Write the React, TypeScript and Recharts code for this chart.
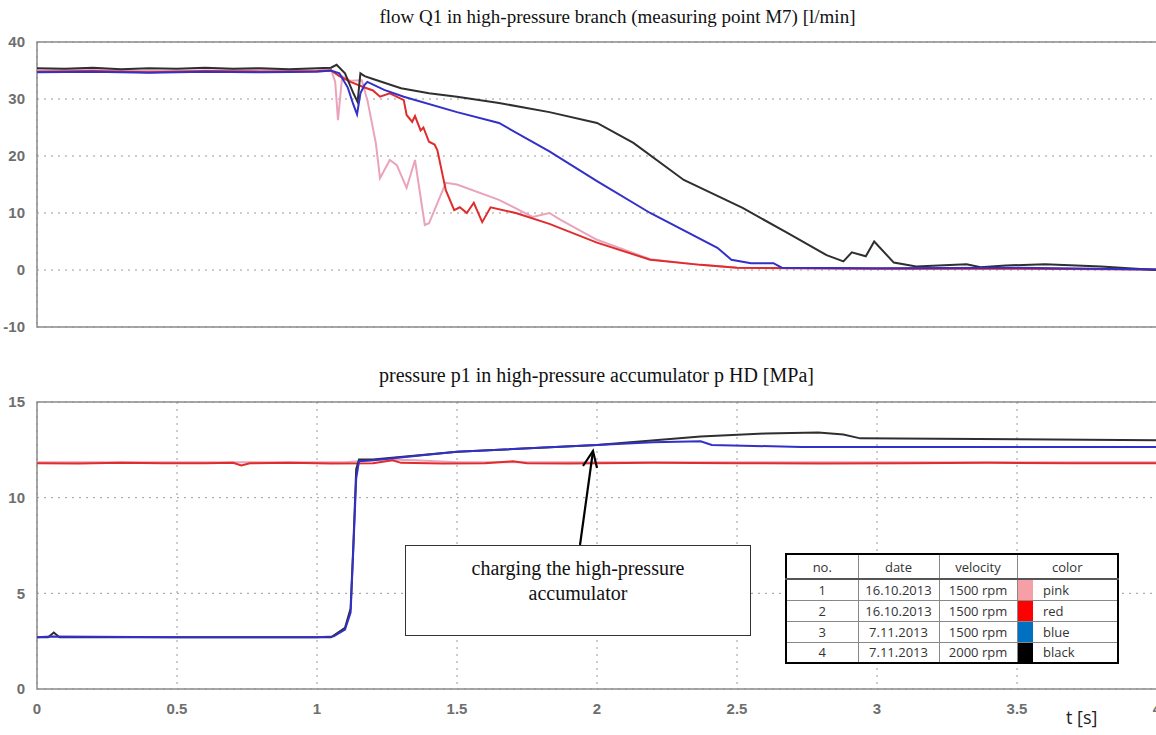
import React from "react";
import {
  LineChart,
  Line,
  XAxis,
  YAxis,
  CartesianGrid,
  ReferenceArea,
} from "recharts";

// time axis ticks [s]
const T_TICKS = [0, 0.5, 1, 1.5, 2, 2.5, 3, 3.5, 4];
const Q_TICKS = [-10, 0, 10, 20, 30, 40];
const P_TICKS = [0, 5, 10, 15];

// flow Q1 [l/min]
const tPinkQ = [0, 0.2, 0.4, 0.6, 0.8, 1.0, 1.05, 1.065, 1.075, 1.09, 1.12, 1.16, 1.18, 1.21, 1.225, 1.26, 1.285, 1.32, 1.35, 1.385, 1.4, 1.46, 1.5, 1.65, 1.77, 1.83, 1.87, 2.0, 2.19, 2.37, 2.5, 3.0, 3.5, 4.0];
const vPinkQ = [35.0, 35.1, 34.9, 35.0, 35.1, 35.0, 35.2, 33, 26.3, 34, 33.2, 33.3, 29.8, 22.3, 16.1, 19.3, 18.4, 14.4, 19.3, 7.9, 8.2, 15.3, 15.0, 12.3, 9.3, 10.0, 8.8, 5.3, 1.9, 0.9, 0.4, 0.2, 0.3, 0.1];

const tRedQ = [0, 0.2, 0.4, 0.6, 0.8, 1.0, 1.05, 1.08, 1.12, 1.165, 1.2, 1.225, 1.26, 1.31, 1.32, 1.34, 1.35, 1.37, 1.38, 1.4, 1.42, 1.43, 1.46, 1.49, 1.51, 1.535, 1.56, 1.59, 1.62, 1.71, 1.83, 2.0, 2.19, 2.37, 2.5, 3.0, 3.5, 4.0];
const vRedQ = [34.8, 34.9, 34.7, 34.9, 34.8, 34.9, 35.0, 34.0, 33.0, 32.1, 31.5, 30.4, 31.0, 29.8, 27.2, 26.0, 27.0, 24.5, 25.0, 22.5, 22.0, 21.0, 14.0, 10.5, 11.0, 10.0, 11.8, 8.4, 11.0, 10.0, 8.1, 4.8, 1.8, 0.9, 0.4, 0.2, 0.2, 0.1];

const tBlueQ = [0, 0.2, 0.4, 0.6, 0.8, 1.0, 1.05, 1.08, 1.11, 1.13, 1.143, 1.155, 1.17, 1.18, 1.24, 1.31, 1.5, 1.65, 1.83, 2.0, 2.19, 2.43, 2.48, 2.55, 2.63, 2.66, 3.0, 3.5, 4.0];
const vBlueQ = [34.7, 34.8, 34.6, 34.8, 34.7, 34.8, 35.0, 34.5, 32, 29, 27.3, 31, 32.5, 33, 31.6, 30.4, 27.7, 25.8, 20.8, 15.6, 10, 3.9, 1.8, 1.2, 1.2, 0.4, 0.3, 0.4, 0.1];

const tBlackQ = [0, 0.1, 0.2, 0.3, 0.4, 0.5, 0.6, 0.7, 0.8, 0.9, 1.0, 1.05, 1.07, 1.1, 1.13, 1.145, 1.155, 1.17, 1.2, 1.3, 1.4, 1.5, 1.65, 1.83, 2.0, 2.13, 2.31, 2.52, 2.68, 2.82, 2.88, 2.91, 2.96, 2.99, 3.06, 3.14, 3.32, 3.37, 3.46, 3.6, 3.8, 4.0];
const vBlackQ = [35.4, 35.3, 35.5, 35.2, 35.4, 35.3, 35.5, 35.3, 35.4, 35.2, 35.4, 35.5, 36.0, 34.5, 31, 29.5, 34.5, 34, 33.5, 31.9, 31, 30.4, 29.3, 27.7, 25.8, 22.3, 15.8, 10.9, 6.5, 2.6, 1.5, 3.1, 2.4, 5.0, 1.3, 0.6, 1.0, 0.5, 0.8, 1.0, 0.6, 0];

// pressure p1 [MPa]
const tPinkP = [0, 0.3, 0.6, 0.9, 1.1, 1.15, 1.25, 1.35, 1.5, 2.0, 2.5, 3.0, 3.5, 4.0];
const vPinkP = [11.85, 11.85, 11.85, 11.85, 11.85, 11.9, 12.0, 11.95, 11.85, 11.85, 11.85, 11.85, 11.85, 11.85];

const tRedP = [0, 0.15, 0.3, 0.45, 0.6, 0.7, 0.73, 0.76, 0.9, 1.05, 1.2, 1.27, 1.3, 1.45, 1.6, 1.7, 1.75, 1.9, 2.2, 2.5, 2.8, 3.1, 3.4, 3.7, 4.0];
const vRedP = [11.8, 11.78, 11.82, 11.8, 11.8, 11.82, 11.68, 11.8, 11.82, 11.78, 11.8, 11.95, 11.82, 11.78, 11.8, 11.9, 11.8, 11.78, 11.82, 11.8, 11.78, 11.8, 11.82, 11.8, 11.8];

const tBlueP = [0, 0.05, 0.5, 1.0, 1.06, 1.1, 1.12, 1.13, 1.14, 1.15, 1.2, 1.5, 2.0, 2.2, 2.37, 2.41, 2.73, 3.0, 3.5, 4.0];
const vBlueP = [2.7, 2.75, 2.7, 2.7, 2.75, 3.1, 4.0, 7.4, 11.0, 11.9, 11.95, 12.4, 12.75, 12.9, 12.95, 12.75, 12.65, 12.65, 12.65, 12.65];

const tBlackP = [0, 0.04, 0.06, 0.08, 0.5, 1.0, 1.05, 1.1, 1.12, 1.13, 1.14, 1.15, 1.2, 1.5, 2.0, 2.37, 2.6, 2.79, 2.88, 2.94, 3.5, 4.0];
const vBlackP = [2.7, 2.7, 2.95, 2.7, 2.7, 2.7, 2.7, 3.2, 4.2, 7.6, 11.5, 12.0, 12.0, 12.4, 12.75, 13.2, 13.35, 13.4, 13.3, 13.1, 13.05, 13.0];

// legend table
const RUNS = [
  { no: "1", date: "16.10.2013", velocity: "1500 rpm", swatch: "#f4a0a6", name: "pink" },
  { no: "2", date: "16.10.2013", velocity: "1500 rpm", swatch: "#ff0000", name: "red" },
  { no: "3", date: "7.11.2013", velocity: "1500 rpm", swatch: "#0070c0", name: "blue" },
  { no: "4", date: "7.11.2013", velocity: "2000 rpm", swatch: "#000000", name: "black" },
];

const PINK = "#eaa3bb";
const RED = "#e02c2c";
const BLUE = "#3230c8";
const BLACK = "#2f2f2f";

const zip = (t: number[], v: number[]) => t.map((x, i) => ({ t: x, v: v[i] }));

const TICK = { fontSize: 15, fill: "#6e6e6e", fontWeight: 600, fontFamily: "Liberation Sans, Arial, sans-serif" };
const SERIF = "Liberation Serif, 'Times New Roman', serif";

function Series({ pink, red, blue, black }: any) {
  return [
    <Line key="p" data={pink} dataKey="v" stroke={PINK} strokeWidth={2} dot={false} isAnimationActive={false} />,
    <Line key="r" data={red} dataKey="v" stroke={RED} strokeWidth={2} dot={false} isAnimationActive={false} />,
    <Line key="k" data={black} dataKey="v" stroke={BLACK} strokeWidth={2} dot={false} isAnimationActive={false} />,
    <Line key="b" data={blue} dataKey="v" stroke={BLUE} strokeWidth={2} dot={false} isAnimationActive={false} />,
  ];
}

export default function App() {
  const cell: React.CSSProperties = { borderRight: "1px solid #888", padding: 0, textAlign: "center" };
  return (
    <div style={{ position: "absolute", left: 0, top: 0, width: 1156, height: 735, overflow: "hidden", background: "#fff" }}>
      <div style={{ position: "absolute", left: 0, top: 6, width: 1235, textAlign: "center", fontFamily: SERIF, fontSize: 19, color: "#111" }}>
        flow Q1 in high-pressure branch (measuring point M7) [l/min]
      </div>
      <div style={{ position: "absolute", left: 0, top: 364, width: 1193, textAlign: "center", fontFamily: SERIF, fontSize: 20, color: "#111" }}>
        pressure p1 in high-pressure accumulator p HD [MPa]
      </div>

      <div style={{ position: "absolute", left: 0, top: 0 }}>
        <LineChart width={1160} height={345} margin={{ top: 42, right: 3, bottom: 18, left: 0 }}>
          <CartesianGrid stroke="#999" strokeDasharray="2 5" />
          <XAxis dataKey="t" type="number" domain={[0, 4]} ticks={T_TICKS} tick={false} axisLine={false} tickLine={false} height={0} />
          <YAxis type="number" domain={[-10, 40]} ticks={Q_TICKS} interval={0} width={37} tick={TICK} tickLine={false} axisLine={false} tickMargin={6} />
          <ReferenceArea x1={0} x2={4} y1={-10} y2={40} fill="none" stroke="#8a8a8a" strokeWidth={1.5} />
          {Series({ pink: zip(tPinkQ, vPinkQ), red: zip(tRedQ, vRedQ), blue: zip(tBlueQ, vBlueQ), black: zip(tBlackQ, vBlackQ) })}
        </LineChart>
      </div>

      <div style={{ position: "absolute", left: 0, top: 360 }}>
        <LineChart width={1160} height={364} margin={{ top: 42, right: 3, bottom: 5, left: 0 }}>
          <CartesianGrid stroke="#999" strokeDasharray="2 5" />
          <XAxis dataKey="t" type="number" domain={[0, 4]} ticks={T_TICKS} interval={0} tick={TICK} axisLine={false} tickLine={false} height={30} tickMargin={8} />
          <YAxis type="number" domain={[0, 15]} ticks={P_TICKS} interval={0} width={37} tick={TICK} tickLine={false} axisLine={false} tickMargin={6} />
          <ReferenceArea x1={0} x2={4} y1={0} y2={15} fill="none" stroke="#8a8a8a" strokeWidth={1.5} />
          {Series({ pink: zip(tPinkP, vPinkP), red: zip(tRedP, vRedP), blue: zip(tBlueP, vBlueP), black: zip(tBlackP, vBlackP) })}
        </LineChart>
      </div>

      <svg width={1156} height={735} style={{ position: "absolute", left: 0, top: 0, pointerEvents: "none" }}>
        <line x1={580} y1={545} x2={593} y2={451} stroke="#000" strokeWidth={2.2} />
        <polyline points="583,466 593,451 597,468" fill="none" stroke="#000" strokeWidth={2.2} />
      </svg>

      <div style={{ position: "absolute", left: 405, top: 545, width: 346, height: 91, border: "1px solid #333", background: "#fff", fontFamily: SERIF, fontSize: 20, color: "#111", textAlign: "center", lineHeight: "25px", paddingTop: 10, boxSizing: "border-box" }}>
        charging the high-pressure
        <br />
        accumulator
      </div>

      <table style={{ position: "absolute", left: 785, top: 553, width: 334, height: 111, borderCollapse: "collapse", border: "2px solid #000", background: "#fff", fontFamily: "'Open Sans', sans-serif", fontSize: 13, color: "#333", tableLayout: "fixed" }}>
        <colgroup>
          <col style={{ width: 72 }} />
          <col style={{ width: 81 }} />
          <col style={{ width: 78 }} />
          <col style={{ width: 16 }} />
          <col style={{ width: 85 }} />
        </colgroup>
        <tbody>
          <tr style={{ height: 25, borderBottom: "2px solid #555" }}>
            <td style={cell}>no.</td>
            <td style={cell}>date</td>
            <td style={cell}>velocity</td>
            <td colSpan={2} style={{ padding: 0, textAlign: "center" }}>color</td>
          </tr>
          {RUNS.map((r) => (
            <tr key={r.no} style={{ height: 21, borderBottom: "1px solid #888" }}>
              <td style={cell}>{r.no}</td>
              <td style={cell}>{r.date}</td>
              <td style={cell}>{r.velocity}</td>
              <td style={{ padding: 0, background: r.swatch }} />
              <td style={{ padding: "0 0 0 10px", textAlign: "left" }}>{r.name}</td>
            </tr>
          ))}
        </tbody>
      </table>

      <div style={{ position: "absolute", left: 1066, top: 705, fontFamily: "'Open Sans', sans-serif", fontSize: 18, color: "#222" }}>t [s]</div>
    </div>
  );
}
